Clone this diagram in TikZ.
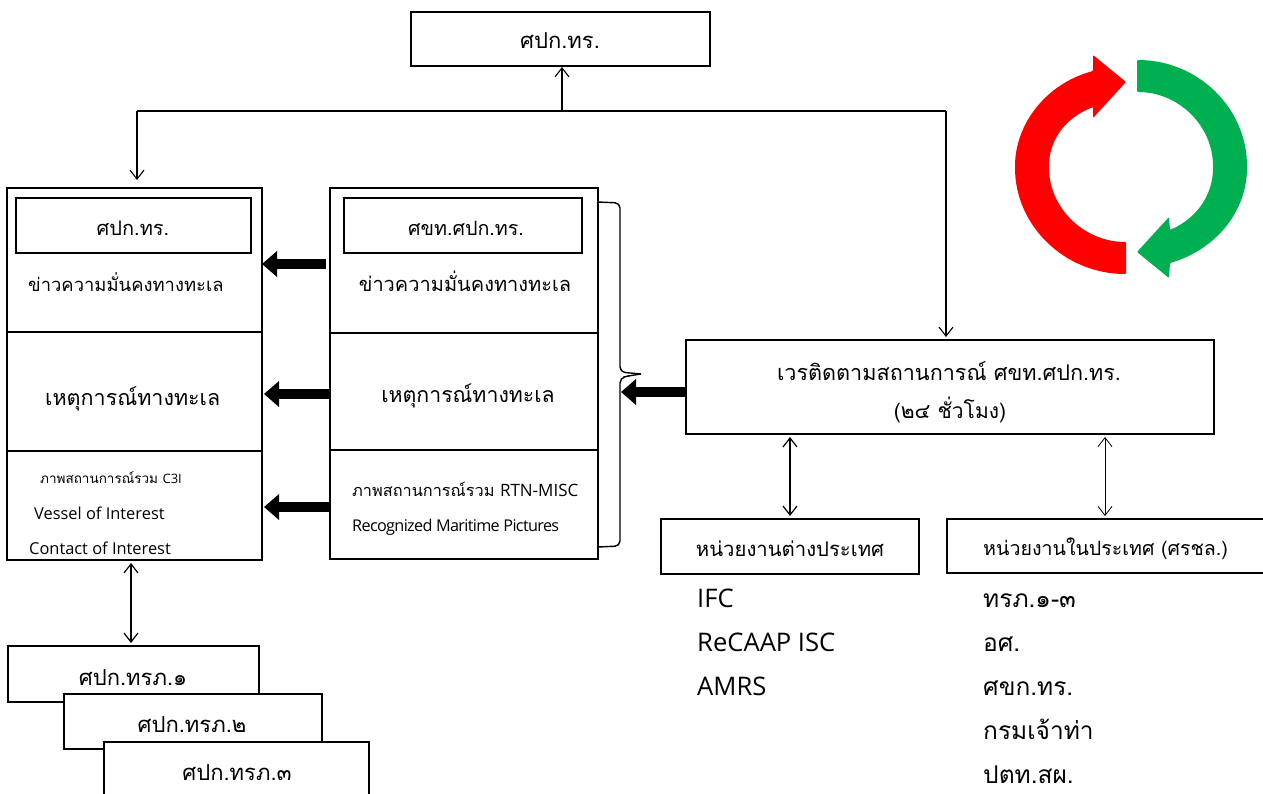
\documentclass[tikz,border=0pt]{standalone}
\usepackage{fontspec}
\setmainfont{Open Sans}
\newfontfamily\thaifont[Script=Thai]{Loma}
\usetikzlibrary{arrows.meta}
\tikzset{
  box/.style={draw=black,line width=1.5pt,fill=white,inner sep=0pt,outer sep=0pt,anchor=north west},
  lbl/.style={inner sep=0pt,font=\thaifont\fontsize{#1}{#1}\selectfont},
  lbll/.style={lbl=#1,anchor=west},
  small/.style={inner sep=0pt,anchor=west,font=\thaifont\fontsize{13.5}{16}\selectfont},
  smalll/.style={inner sep=0pt,anchor=west,font=\fontsize{#1}{#1}\selectfont},
  latin/.style={inner sep=0pt,anchor=west,font=\fontsize{25.6}{28}\selectfont},
  thin arrow/.style={line width=1.1pt,-{Straight Barb[length=9pt,width=14pt]}},
  both arrow/.style={line width=1.2pt,{Straight Barb[length=9pt,width=14pt]}-{Straight Barb[length=9pt,width=14pt]},shorten <=3pt,shorten >=3pt},
  fat arrow/.style={line width=10pt,-{Triangle[length=15pt,width=25pt]}}
}
\begin{document}
\begin{tikzpicture}[x=1pt,y=-1pt]
\clip (0,0) rectangle (1263,794);
\fill[white] (0,0) rectangle (1263,794);

% top box
\node[box,minimum width=299pt,minimum height=54pt] (top) at (411,12) {};
\node[lbl=22] (toplbl) at (560,41) {ศปก.ทร.};
\coordinate (jn) at (562,111);
\coordinate (jl) at (137,111);
\coordinate (jr) at (946,111);

% left panel
\node[box,minimum width=255pt,minimum height=144pt] (l1) at (7,188) {};
\node[box,line width=1.2pt,minimum width=255pt,minimum height=119pt] (l2) at (7,332) {};
\node[box,line width=1.2pt,minimum width=255pt,minimum height=109pt] (l3) at (7,451) {};
\node[box,minimum width=235pt,minimum height=55pt] (l0) at (16,198) {};
\node[lbl=20] (l0t) at (133,228) {ศปก.ทร.};
\node[lbll=18.4] (l1t) at (28,282) {ข่าวความมั่นคงทางทะเล};
\node[lbll=21.5] (l2t) at (45,399) {เหตุการณ์ทางทะเล};
\node[small] (l3a) at (40,478) {ภาพสถานการณ์รวม {\rmfamily\fontsize{13}{16}\selectfont C3I}};
\node[smalll=16.4] (l3b) at (34,513) {Vessel of Interest};
\node[smalll=16.4] (l3c) at (29,548) {Contact of Interest};

% middle panel
\node[box,line width=1.2pt,minimum width=268pt,minimum height=145pt] (m1) at (330,188) {};
\node[box,line width=1.2pt,minimum width=268pt,minimum height=117pt] (m2) at (330,333) {};
\node[box,line width=1.2pt,minimum width=268pt,minimum height=109pt] (m3) at (330,450) {};
\node[box,minimum width=238pt,minimum height=55pt] (m0) at (344,198) {};
\node[lbl=19.7] (m0t) at (466,228) {ศขท.ศปก.ทร.};
\node[lbl=20] (m1t) at (465,281) {ข่าวความมั่นคงทางทะเล};
\node[lbl=21.3] (m2t) at (468,396) {เหตุการณ์ทางทะเล};
\node[small,font=\thaifont\fontsize{16.3}{18}\selectfont] (m3a) at (352,489) {ภาพสถานการณ์รวม {\rmfamily\fontsize{17}{18}\selectfont RTN-MISC}};
\node[smalll=16.2] (m3b) at (352,527) {\addfontfeature{LetterSpace=-4}Recognized Maritime Pictures};

% brace
\draw[line width=1.4pt,rounded corners=5pt] (m1.north east |- 0,202) -- (620,203) -- (620,372) -- (630,373) -- (641,374);
\draw[line width=1.4pt,rounded corners=5pt] (641,374) -- (628,376) -- (620,378) -- (620,546) -- (m1.north east |- 0,547);

% watch box
\node[box,minimum width=528pt,minimum height=94pt] (vp) at (686,340) {};
\node[lbl=21.6] (vp1) at (949,371) {เวรติดตามสถานการณ์ ศขท.ศปก.ทร.};
\node[lbl=21] (vp2) at (950,410) {(๒๔ ชั่วโมง)};

% agencies
\node[box,minimum width=258pt,minimum height=55pt] (fo) at (661,519) {};
\node[box,minimum width=320pt,minimum height=54pt] (dom) at (947,519) {};
\node[lbl=20.3] (fot) at (790,549) {หน่วยงานต่างประเทศ};
\node[lbll=19.6] (domt) at (983,549) {หน่วยงานในประเทศ (ศรชล.)};
\node[latin] (f1) at (697,598) {IFC};
\node[latin] (f2) at (697,642) {ReCAAP ISC};
\node[latin] (f3) at (697,686) {AMRS};
\node[lbll=24.5] (d1) at (983,601) {ทรภ.๑-๓};
\node[lbll=24.5] (d2) at (983,644) {อศ.};
\node[lbll=24.5] (d3) at (983,688) {ศขก.ทร.};
\node[lbll=24.5] (d4) at (983,729) {กรมเจ้าท่า};
\node[lbll=24.5] (d5) at (983,775) {ปตท.สผ.};

% stacked boxes
\node[box,minimum width=251pt,minimum height=56pt] (s1) at (8,646) {};
\node[box,line width=1.2pt,minimum width=258pt,minimum height=55pt] (s2) at (64,694) {};
\node[box,line width=1.2pt,minimum width=265pt,minimum height=70pt] (s3) at (104,742) {};
\node[lbl=22] (s1t) at (133,678) {ศปก.ทรภ.๑};
\node[lbl=22] (s2t) at (192,725) {ศปก.ทรภ.๒};
\node[lbl=22] (s3t) at (237,773) {ศปก.ทรภ.๓};

% connectors
\draw[thin arrow,shorten >=1pt] (jn) -- (jn |- top.south);
\draw[line width=1.1pt] (jl) -- (jr);
\draw[thin arrow,shorten >=8pt] (jl) -- (jl |- l1.north);
\draw[thin arrow,shorten >=3pt] (jr) -- (jr |- vp.north);
\draw[fat arrow] (326,264) -- (l1.east |- 0,264);
\draw[fat arrow,shorten >=2pt] (m2.west |- 0,394) -- (l2.east |- 0,394);
\draw[fat arrow,shorten >=2pt] (m3.west |- 0,507) -- (l3.east |- 0,507);
\draw[fat arrow] (vp.west |- 0,392) -- (621,392);
\draw[both arrow] (vp.south -| 790,0) -- (fo.north -| 790,0);
\draw[both arrow,line width=.8pt] (vp.south -| 1105,0) -- (dom.north -| 1105,0);
\draw[both arrow] (l3.south -| 131,0) -- (s1.north -| 131,0);

% cycle
\fill[red,rounded corners=1pt] (1126,274) .. controls (1065,274) and (1015,226) .. (1015,167)
  .. controls (1015,125) and (1045,84) .. (1093,71) -- (1093,55) -- (1126,82) -- (1093,118) -- (1093,107)
  .. controls (1065,118) and (1049,140) .. (1049,167)
  .. controls (1049,208) and (1084,242) .. (1126,242) -- cycle;
\fill[fill={rgb,255:red,0;green,176;blue,80},rounded corners=1pt] (1137,60) .. controls (1198,60) and (1247,108) .. (1247,167)
  .. controls (1247,212) and (1215,250) .. (1170,263) -- (1169,278) -- (1137,252) -- (1169,217) -- (1170,230)
  .. controls (1197,218) and (1213,195) .. (1213,167)
  .. controls (1213,126) and (1179,92) .. (1137,92) -- cycle;
\end{tikzpicture}
\end{document}
